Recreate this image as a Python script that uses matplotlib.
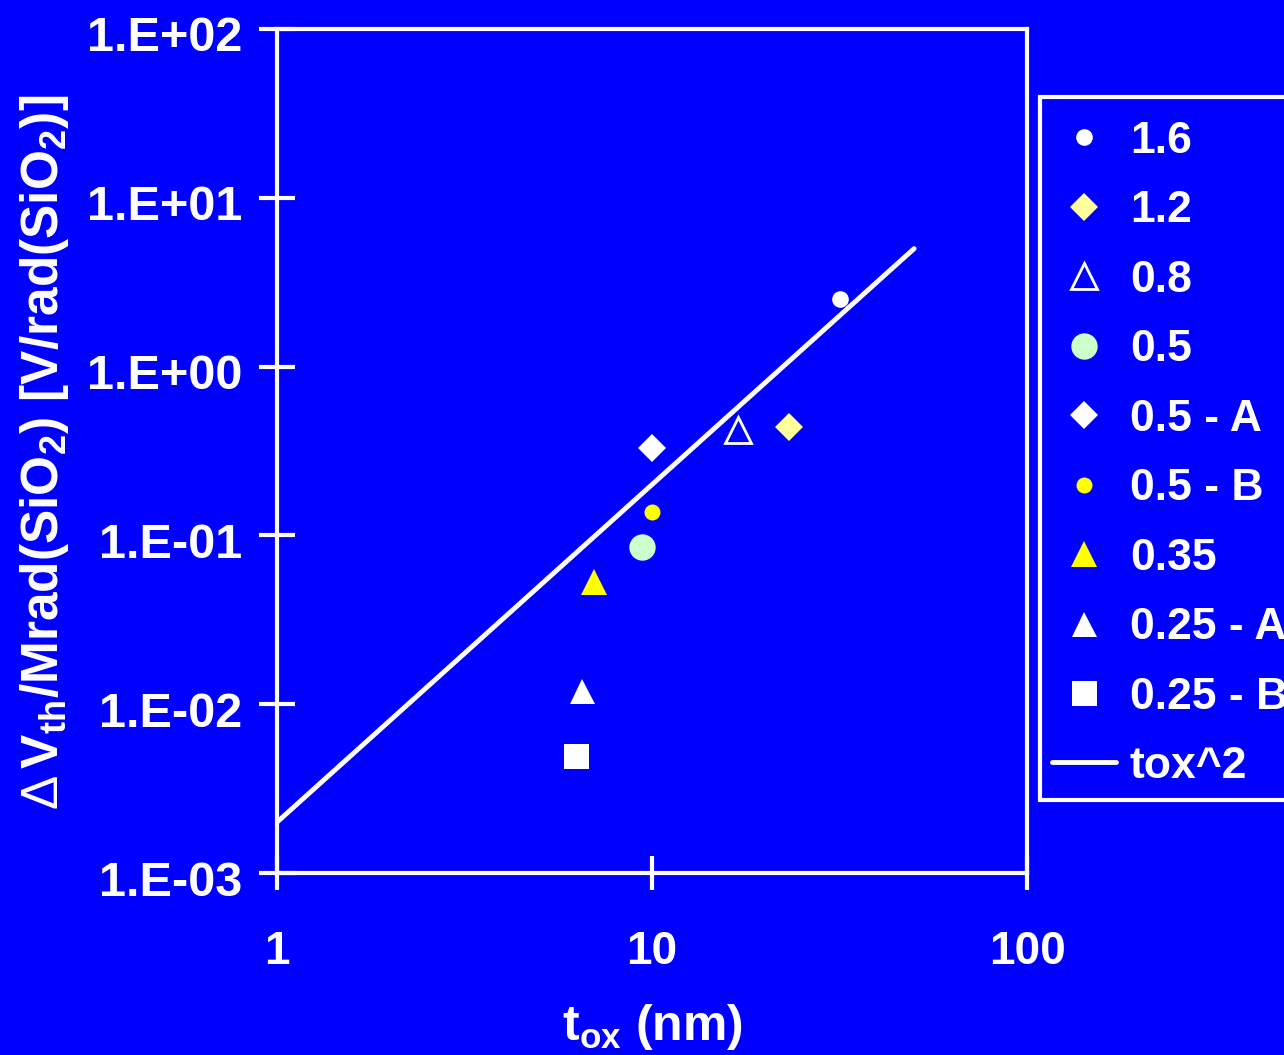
import matplotlib
matplotlib.use("Agg")
import matplotlib.pyplot as plt
import matplotlib.transforms as mtransforms
from matplotlib.patches import Rectangle
import numpy as np

# ---- data ----
labels = ["1.6", "1.2", "0.8", "0.5", "0.5 - A", "0.5 - B", "0.35", "0.25 - A", "0.25 - B"]
tox = [31.7, 23.2, 17.0, 9.4, 10.0, 10.0, 7.0, 6.5, 6.27]
dvth = [2.5, 0.44, 0.42, 0.085, 0.33, 0.138, 0.053, 0.012, 0.0049]
fit_x = [1.0, 50.0]
fit_coef = 0.002  # tox^2 line: y = coef * x^2
fit_label = "tox^2"

y_ticks = [1e-3, 1e-2, 1e-1, 1e0, 1e1, 1e2]
y_ticklabels = ["1.E-03", "1.E-02", "1.E-01", "1.E+00", "1.E+01", "1.E+02"]
x_ticks = [1, 10, 100]
x_ticklabels = ["1", "10", "100"]

# ---- styles ----
markers = ["o", "D", "^", "o", "D", "o", "^", "^", "s"]
faces = ["white", "#FFFF99", "none", "#CCFFCC", "white", "yellow", "yellow", "white", "white"]
edges = ["white", "#FFFF99", "white", "#CCFFCC", "white", "yellow", "yellow", "white", "white"]
sizes = [12, 14, 19, 19, 14, 11.5, 19, 18, 18]
ew = [0, 0, 2.0, 0, 0, 0, 0, 0, 0]

BLUE = "#0000FF"
plt.rcParams["font.family"] = ["Liberation Sans", "DejaVu Sans"]
plt.rcParams["font.weight"] = "bold"
plt.rcParams["mathtext.fontset"] = "custom"
plt.rcParams["mathtext.rm"] = "Liberation Sans:bold"
plt.rcParams["mathtext.it"] = "Liberation Sans:bold"
plt.rcParams["mathtext.bf"] = "Liberation Sans:bold"
plt.rcParams["mathtext.sf"] = "Liberation Sans:weight=normal"

W, H = 1284, 1055
fig = plt.figure(figsize=(W/100, H/100), dpi=100, facecolor=BLUE)
ax = fig.add_axes([277/W, 1-873/H, (1027-277)/W, (873-29)/H], facecolor=BLUE)

handles = []
for i in range(len(labels)):
    h, = ax.plot([tox[i]], [dvth[i]], linestyle="none", marker=markers[i],
                 markerfacecolor=faces[i], markeredgecolor=edges[i],
                 markeredgewidth=ew[i], markersize=sizes[i], label=labels[i], zorder=3)
    handles.append(h)

fx = np.array(fit_x)
hl, = ax.plot(fx, fit_coef * fx**2, color="white", lw=3.5, label=fit_label,
              solid_capstyle="round", zorder=2)
handles.append(hl)

ax.set_xscale("log")
ax.set_yscale("log")
ax.set_xlim(1, 100)
ax.set_ylim(1e-3, 1e2)
ax.set_xticks(x_ticks)
ax.set_xticklabels(x_ticklabels)
ax.set_yticks(y_ticks)
ax.set_yticklabels(y_ticklabels)
ax.minorticks_off()

for s in ax.spines.values():
    s.set_color("white")
    s.set_linewidth(3)

ax.tick_params(axis="y", direction="inout", length=26, width=3, color="white",
               labelcolor="white", labelsize=35, pad=12)
ax.tick_params(axis="x", direction="inout", length=24, width=3, color="white",
               labelcolor="white", labelsize=33, pad=29)
shift = mtransforms.ScaledTranslation(0, -5/100, fig.dpi_scale_trans)
for t in ax.get_yticklabels():
    t.set_fontweight("bold")
    t.set_transform(t.get_transform() + shift)
for t in ax.get_xticklabels():
    t.set_fontweight("bold")

fig.text(652/W, 1-1027/H, r"$\mathrm{t_{ox}}$ (nm)", color="white",
         fontsize=36, fontweight="bold", ha="center", va="center")
fig.text(45/W, 1-452/H,
         r"$\mathsf{\Delta}\,\mathrm{V_{th}/Mrad(SiO_2)\ [V/rad(SiO_2)]}$",
         color="white", fontsize=37, rotation=90, ha="center", va="center")

# legend frame drawn as a rectangle (extends past right edge as in reference)
fig.patches.append(Rectangle((1040/W, 1-800/H), 260/W, (800-97)/H,
                             transform=fig.transFigure, facecolor=BLUE,
                             edgecolor="white", linewidth=3, zorder=0))

leg = fig.legend(handles=handles, loc="upper left",
                 bbox_to_anchor=(1052/W, 1-121/H), borderaxespad=0,
                 frameon=False, labelcolor="white", labelspacing=0.64,
                 handlelength=1.45, handletextpad=0.3, borderpad=0,
                 prop={"weight": "bold", "size": 32})

fig.savefig("out.png", dpi=100, facecolor=BLUE)
